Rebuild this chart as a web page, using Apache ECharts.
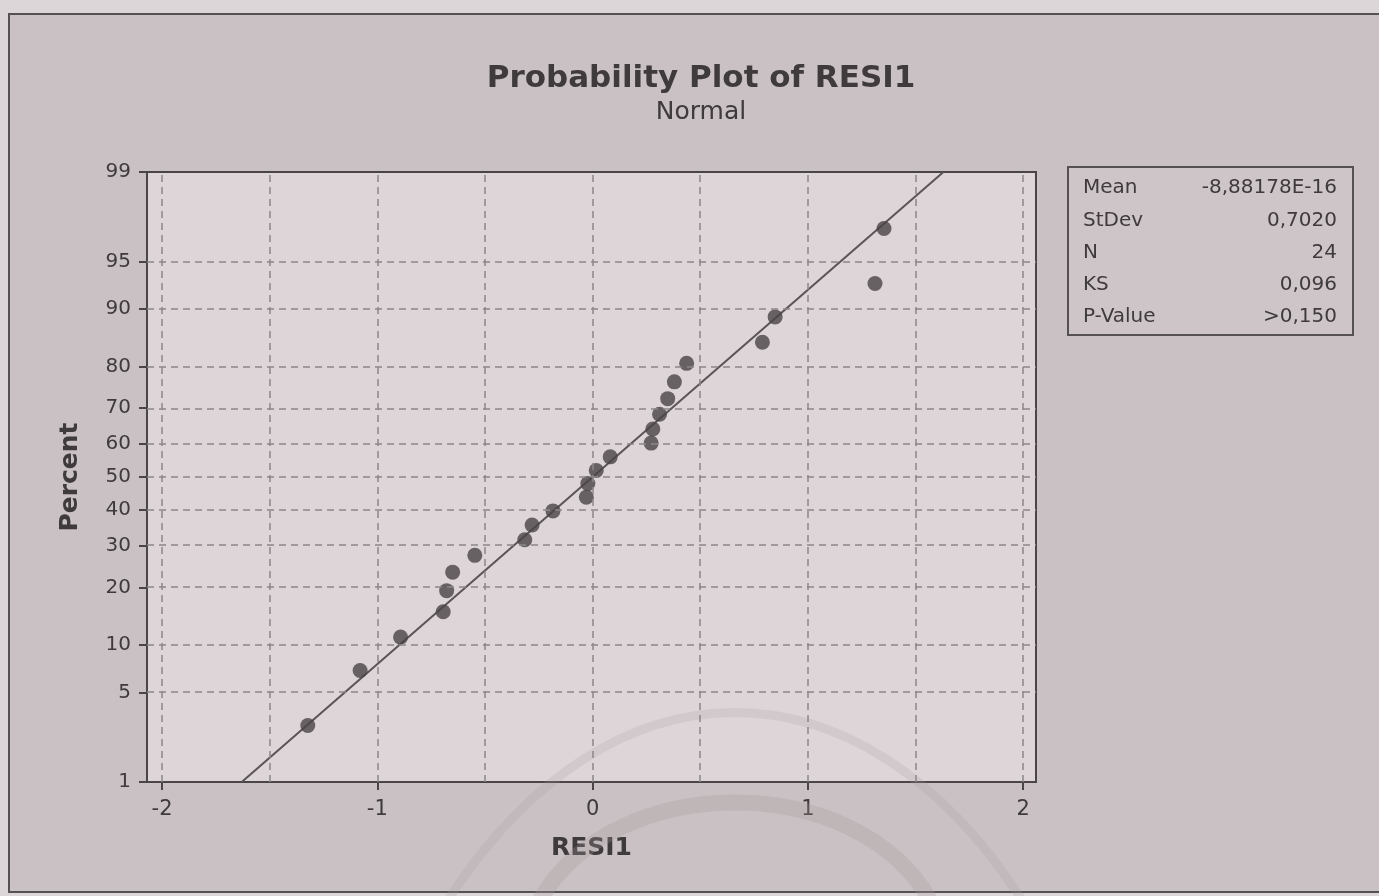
<!doctype html>
<html lang="en">
<head>
    <meta charset="utf-8">
    <title>Probability Plot of RESI1</title>
    <script src="https://cdn.jsdelivr.net/npm/echarts@6/dist/echarts.min.js"></script>
    <style>
        html, body { margin: 0; padding: 0; background: #ddd6d8; }
        #main { width: 1379px; height: 896px; }
    </style>
</head>
<body>
    <div id="main"></div>
    <script>
        // residuals, in rank order
        var residuals = [-1.323, -1.080, -0.892, -0.694, -0.678, -0.650, -0.547, -0.315, -0.281, -0.184, -0.029, -0.022,
                         0.017, 0.082, 0.272, 0.280, 0.311, 0.349, 0.380, 0.437, 0.789, 0.848, 1.312, 1.354];
        // percent (probability scale) of each point
        var percents = [2.9, 7.0, 11.1, 15.2, 19.3, 23.4, 27.5, 31.6, 35.7, 39.8, 43.9, 48.0,
                        52.0, 56.1, 60.2, 64.3, 68.4, 72.5, 76.6, 80.7, 84.8, 88.9, 93.0, 97.1];
        // fitted normal line, ends as [residual, percent]
        var fitLine = [[-1.63, 1], [1.63, 99]];

        var yTicks = [1, 5, 10, 20, 30, 40, 50, 60, 70, 80, 90, 95, 99];
        var yGrid = [5, 10, 20, 30, 40, 50, 60, 70, 80, 90, 95];
        var xTicks = [-2, -1, 0, 1, 2];
        var xGrid = [-2, -1.5, -1, -0.5, 0, 0.5, 1, 1.5, 2];

        var statNames = ['Mean', 'StDev', 'N', 'KS', 'P-Value'];
        var statValues = ['-8,88178E-16', '0,7020', '24', '0,096', '>0,150'];

        // percent -> standard normal quantile (Acklam)
        function probit(pct) {
            var p = pct / 100;
            var a = [-3.969683028665376e+01, 2.209460984245205e+02, -2.759285104469687e+02, 1.383577518672690e+02, -3.066479806614716e+01, 2.506628277459239e+00];
            var b = [-5.447609879822406e+01, 1.615858368580409e+02, -1.556989798598866e+02, 6.680131188771972e+01, -1.328068155288572e+01];
            var c = [-7.784894002430293e-03, -3.223964580411365e-01, -2.400758277161838e+00, -2.549732539343734e+00, 4.374664141464968e+00, 2.938163982698783e+00];
            var d = [7.784695709041462e-03, 3.224671290700398e-01, 2.445134137142996e+00, 3.754408661907416e+00];
            var q, r;
            if (p < 0.02425) {
                q = Math.sqrt(-2 * Math.log(p));
                return (((((c[0]*q+c[1])*q+c[2])*q+c[3])*q+c[4])*q+c[5]) / ((((d[0]*q+d[1])*q+d[2])*q+d[3])*q+1);
            }
            if (p > 1 - 0.02425) {
                q = Math.sqrt(-2 * Math.log(1 - p));
                return -(((((c[0]*q+c[1])*q+c[2])*q+c[3])*q+c[4])*q+c[5]) / ((((d[0]*q+d[1])*q+d[2])*q+d[3])*q+1);
            }
            q = p - 0.5;
            r = q * q;
            return (((((a[0]*r+a[1])*r+a[2])*r+a[3])*r+a[4])*r+a[5])*q / (((((b[0]*r+b[1])*r+b[2])*r+b[3])*r+b[4])*r+1);
        }

        var yTickZ = yTicks.map(probit);
        var points = residuals.map(function (x, i) { return [x, probit(percents[i])]; });
        var fitData = fitLine.map(function (d) { return [d[0], probit(d[1])]; });

        var gridLines = [];
        xGrid.forEach(function (v) { gridLines.push({ xAxis: v }); });
        yGrid.forEach(function (v) { gridLines.push({ yAxis: probit(v) }); });

        var font = 'DejaVu Sans';
        var ink = '#3f3a3c';

        var graphics = [
            {
                type: 'rect', z: -10, silent: true,
                shape: { x: 9, y: 14, width: 1400, height: 878 },
                style: { fill: '#c9c1c3', stroke: '#555052', lineWidth: 2 }
            },
            // faint watermark arcs from the scanned page
            {
                type: 'bezierCurve', z: 1, silent: true,
                shape: { x1: 448, y1: 900, cpx1: 610, cpy1: 650, cpx2: 860, cpy2: 650, x2: 1022, y2: 900 },
                style: { stroke: 'rgba(165,155,158,0.2)', lineWidth: 9, fill: null }
            },
            {
                type: 'bezierCurve', z: 1, silent: true,
                shape: { x1: 540, y1: 900, cpx1: 615, cpy1: 770, cpx2: 855, cpy2: 770, x2: 930, y2: 900 },
                style: { stroke: 'rgba(165,155,158,0.28)', lineWidth: 16, fill: null }
            },
            {
                type: 'rect', z: 2, silent: true,
                shape: { x: 1068, y: 167, width: 285, height: 168 },
                style: { fill: '#cdc5c7', stroke: '#555052', lineWidth: 2 }
            }
        ];
        statNames.forEach(function (name, i) {
            graphics.push({
                type: 'text', z: 3, x: 1083, y: 188 + i * 32.3,
                style: { text: name, fill: ink, font: '20px "DejaVu Sans"', textAlign: 'left', textVerticalAlign: 'middle' }
            });
            graphics.push({
                type: 'text', z: 3, x: 1337, y: 188 + i * 32.3,
                style: { text: statValues[i], fill: ink, font: '20px "DejaVu Sans"', textAlign: 'right', textVerticalAlign: 'middle' }
            });
        });

        var myChart = echarts.init(document.getElementById('main'));

        var option = {
            backgroundColor: '#ddd6d8',
            animation: false,
            textStyle: { fontFamily: font },
            title: {
                text: 'Probability Plot of RESI1',
                subtext: 'Normal',
                left: 696,
                top: 58,
                textAlign: 'center',
                itemGap: 6,
                textStyle: { fontFamily: font, fontSize: 31, fontWeight: 'bold', color: ink },
                subtextStyle: { fontFamily: font, fontSize: 25, color: ink }
            },
            graphic: graphics,
            grid: {
                left: 147, right: 343, top: 172, bottom: 114,
                show: true,
                backgroundColor: '#ddd5d8',
                borderColor: '#4a4547',
                borderWidth: 2
            },
            xAxis: {
                type: 'value',
                min: -2.07,
                max: 2.06,
                name: 'RESI1',
                nameLocation: 'middle',
                nameGap: 54,
                nameTextStyle: { fontFamily: font, fontSize: 25, fontWeight: 'bold', color: ink },
                axisLine: { onZero: false, lineStyle: { color: '#4a4547', width: 2 } },
                axisTick: { customValues: xTicks, length: 8, lineStyle: { color: '#4a4547', width: 2 } },
                axisLabel: { customValues: xTicks, fontSize: 21, color: ink, margin: 17 },
                splitLine: { show: false }
            },
            yAxis: {
                type: 'value',
                min: probit(1),
                max: probit(99),
                name: 'Percent',
                nameLocation: 'middle',
                nameGap: 64,
                nameTextStyle: { fontFamily: font, fontSize: 25, fontWeight: 'bold', color: ink },
                axisLine: { onZero: false, lineStyle: { color: '#4a4547', width: 2 } },
                axisTick: { customValues: yTickZ, length: 8, lineStyle: { color: '#4a4547', width: 2 } },
                axisLabel: {
                    customValues: yTickZ,
                    fontSize: 20,
                    color: ink,
                    margin: 16,
                    formatter: function (v) {
                        for (var i = 0; i < yTickZ.length; i++) {
                            if (Math.abs(yTickZ[i] - v) < 1e-6) return String(yTicks[i]);
                        }
                        return '';
                    }
                },
                splitLine: { show: false }
            },
            series: [
                {
                    name: 'grid',
                    type: 'line',
                    data: [],
                    silent: true,
                    z: 2,
                    markLine: {
                        silent: true,
                        symbol: ['none', 'none'],
                        label: { show: false },
                        lineStyle: { color: '#8c8688', width: 1.5, type: [7, 5] },
                        data: gridLines
                    }
                },
                {
                    name: 'fit',
                    type: 'line',
                    data: fitData,
                    showSymbol: false,
                    z: 3,
                    lineStyle: { color: '#5a5456', width: 2 }
                },
                {
                    name: 'RESI1',
                    type: 'scatter',
                    data: points,
                    symbolSize: 15,
                    z: 4,
                    itemStyle: { color: '#4a4446' }
                }
            ]
        };

        myChart.setOption(option);
    </script>
</body>
</html>
